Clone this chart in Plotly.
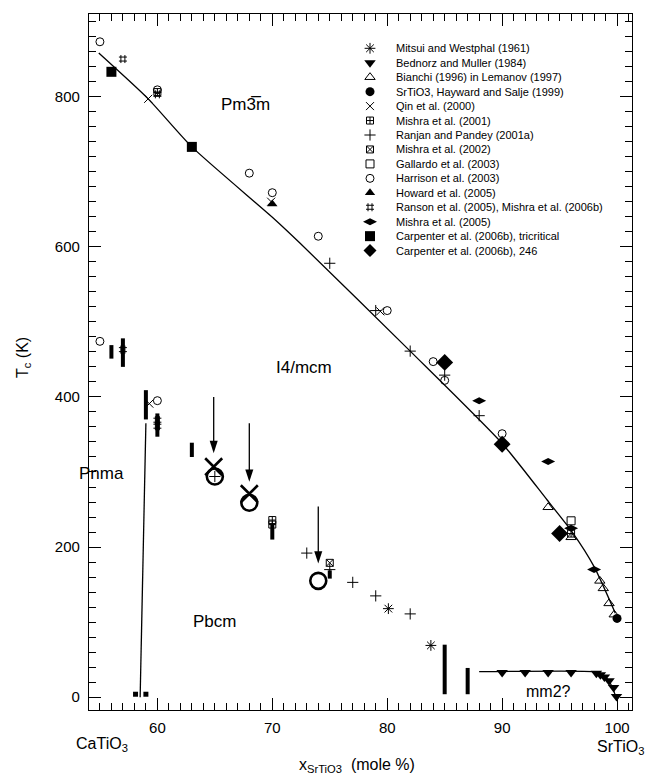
import plotly.graph_objects as go

FONT = "Liberation Sans, Arial, Helvetica, sans-serif"

# ---------------- data ----------------
# phase boundary curves
tc_line_x = [54.9, 59.2, 63.0, 70.1, 72.4, 82.0, 90.0, 93.9, 96.1, 98.0, 99.85]
tc_line_y = [858, 797, 733, 638, 605, 461, 338, 263, 220, 174, 112]
mm2_line_x = [88.0, 98.0, 98.5, 99.0, 99.4, 99.7, 99.9]
mm2_line_y = [34, 34, 32, 27, 19, 9, 0]
pnma_line_x = [59.0, 58.5]
pnma_line_y = [365, 0]

# thick vertical range bars
bar_x = [56, 57, 59, 60, 63, 70, 75, 85, 87]
bar_lo = [451, 440, 370, 347, 320, 210, 158, 4, 4]
bar_hi = [469, 478, 409, 378, 339, 230, 169, 70, 39]

# small squares at 0 K
low_sq_x = [58.1, 59.0]
low_sq_y = [4, 4]

# series
mitsui_x = [80.1, 83.8]
mitsui_y = [118, 69]
bednorz_x = [90, 92, 94, 96, 98.2, 98.55, 98.9, 99.3, 99.7, 99.95]
bednorz_y = [33, 33, 33, 33, 32, 30, 27, 22, 13, 1]
bianchi_x = [94, 96, 98.5, 98.8, 99.3, 99.75]
bianchi_y = [253, 213, 155, 145, 125, 110]
hayward_x = [100.0]
hayward_y = [105]
qin_x = [59.2, 59.3, 69.9, 79.4]
qin_y = [797, 391, 660, 514]
mishra01_x = [60, 70, 70, 96]
mishra01_y = [806, 236, 230, 218]
ranjan_x = [65, 73, 75, 75, 77, 79, 79, 82, 82, 85, 88]
ranjan_y = [294, 192, 170, 578, 153, 135, 515, 461, 111, 429, 375]
mishra02_x = [75]
mishra02_y = [179]
gallardo_x = [96]
gallardo_y = [235]
harrison_x = [55, 55, 60, 60, 68, 70, 74, 80, 84, 85, 90]
harrison_y = [873, 474, 809, 395, 698, 672, 614, 515, 447, 422, 351]
howard_x = [70]
howard_y = [657]
ranson_x = [57, 60, 57, 60, 60]
ranson_y = [850, 803, 463, 369, 361]
mishra05_x = [88, 94, 96, 98]
mishra05_y = [395, 314, 225, 170]
carp_tri_x = [56, 63]
carp_tri_y = [833, 733]
carp246_x = [85, 90, 95]
carp246_y = [446, 337, 218]

# large symbols and arrows
big_x_x = [64.9, 68.0]
big_x_y = [307, 271]
big_o_x = [65.0, 68.0, 74.0]
big_o_y = [294, 259, 155]
arrow_x = [64.9, 68.0, 74.0]
arrow_from = [400, 365, 254]
arrow_to = [325, 287, 178]

x_label_vals = [60, 70, 80, 90, 100]
x_half_vals = [55, 65, 75, 85, 95]

series = [
    ("Mitsui and Westphal (1961)", mitsui_x, mitsui_y, "asterisk-open", 9, 1.0),
    ("Bednorz and Muller (1984)", bednorz_x, bednorz_y, "triangle-down", 10, 0),
    ("Bianchi (1996) in Lemanov (1997)", bianchi_x, bianchi_y, "triangle-up-open", 9, 1.0),
    ("SrTiO3, Hayward and Salje (1999)", hayward_x, hayward_y, "circle", 9, 0),
    ("Qin et al. (2000)", qin_x, qin_y, "x-thin-open", 8, 1.0),
    ("Mishra et al. (2001)", mishra01_x, mishra01_y, "square-cross-open", 7, 1.0),
    ("Ranjan and Pandey (2001a)", ranjan_x, ranjan_y, "cross-thin-open", 8, 1.0),
    ("Mishra et al. (2002)", mishra02_x, mishra02_y, "square-x-open", 7, 1.0),
    ("Gallardo et al. (2003)", gallardo_x, gallardo_y, "square-open", 8, 1.0),
    ("Harrison et al. (2003)", harrison_x, harrison_y, "circle-open", 8, 1.0),
    ("Howard et al. (2005)", howard_x, howard_y, "triangle-up", 9, 0),
    ("Ranson et al. (2005), Mishra et al. (2006b)", ranson_x, ranson_y, "hash-open", 8, 1.0),
    ("Mishra et al. (2005)", mishra05_x, mishra05_y, "diamond-wide", 10, 0),
    ("Carpenter et al. (2006b), tricritical", carp_tri_x, carp_tri_y, "square", 10, 0),
    ("Carpenter et al. (2006b), 246", carp246_x, carp246_y, "diamond", 13, 0),
]

fig = go.Figure()

fig.add_trace(go.Scatter(x=tc_line_x, y=tc_line_y, mode="lines",
                         line=dict(color="black", width=1.3, shape="spline", smoothing=0.6),
                         showlegend=False, hoverinfo="skip"))
fig.add_trace(go.Scatter(x=mm2_line_x, y=mm2_line_y, mode="lines",
                         line=dict(color="black", width=1.3, shape="spline", smoothing=0.6),
                         showlegend=False, hoverinfo="skip"))
fig.add_trace(go.Scatter(x=pnma_line_x, y=pnma_line_y, mode="lines",
                         line=dict(color="black", width=1.3),
                         showlegend=False, hoverinfo="skip"))

bx, by = [], []
for xv, lo, hi in zip(bar_x, bar_lo, bar_hi):
    bx += [xv, xv, None]
    by += [lo, hi, None]
fig.add_trace(go.Scatter(x=bx, y=by, mode="lines", line=dict(color="black", width=4),
                         showlegend=False, hoverinfo="skip"))

fig.add_trace(go.Scatter(x=low_sq_x, y=low_sq_y, mode="markers",
                         marker=dict(symbol="square", size=5, color="black"),
                         showlegend=False))

for name, xs, ys, sym, size, lw in series:
    fig.add_trace(go.Scatter(x=xs, y=ys, mode="markers", name=name,
                             marker=dict(symbol=sym, size=size, color="black",
                                         line=dict(color="black", width=lw)),
                             showlegend=False))

fig.add_trace(go.Scatter(x=big_x_x, y=big_x_y, mode="markers",
                         marker=dict(symbol="x-thin-open", size=17, color="black",
                                     line=dict(color="black", width=2.6)),
                         showlegend=False))
fig.add_trace(go.Scatter(x=big_o_x, y=big_o_y, mode="markers",
                         marker=dict(symbol="circle-open", size=16, color="black",
                                     line=dict(color="black", width=2.6)),
                         showlegend=False))

# arrows: shaft lines plus arrow-head markers at the tips
ax_l, ay_l = [], []
for xv, y0, y1 in zip(arrow_x, arrow_from, arrow_to):
    ax_l += [xv, xv, None]
    ay_l += [y0, y1 + 8, None]
fig.add_trace(go.Scatter(x=ax_l, y=ay_l, mode="lines", line=dict(color="black", width=1.3),
                         showlegend=False, hoverinfo="skip"))
fig.add_trace(go.Scatter(x=arrow_x, y=arrow_to, mode="markers",
                         marker=dict(symbol="arrow", angle=180, size=13, color="black",
                                     line=dict(width=0)),
                         showlegend=False, hoverinfo="skip"))

# ---- legend (manual, on an overlay axis in plot-fraction units) ----
PLOT_L, PLOT_R, PLOT_T, PLOT_B = 89, 632, 14, 710
pw, ph = PLOT_R - PLOT_L, PLOT_B - PLOT_T
leg_marker_px = 370
leg_text_px = 394
leg_row0 = 48.3
leg_step = 14.45
for i, (name, xs, ys, sym, size, lw) in enumerate(series):
    py = leg_row0 + i * leg_step
    yf = (PLOT_B - py) / ph
    fig.add_trace(go.Scatter(x=[(leg_marker_px - PLOT_L) / pw], y=[yf], xaxis="x2", yaxis="y2",
                             mode="markers",
                             marker=dict(symbol=sym, size=min(size, 10), color="black",
                                         line=dict(color="black", width=lw)),
                             showlegend=False, hoverinfo="skip"))
    fig.add_annotation(x=(leg_text_px - PLOT_L) / pw, y=yf, xref="paper", yref="paper",
                       text=name, showarrow=False, xanchor="left", yanchor="middle",
                       font=dict(family=FONT, size=11, color="black"))

# ---- phase labels ----
def lab(x, y, t, size=17):
    fig.add_annotation(x=x, y=y, xref="x", yref="y", text=t, showarrow=False,
                       xanchor="center", yanchor="middle",
                       font=dict(family=FONT, size=size, color="black"))

lab(67.7, 789, "Pm3\u0305m")
lab(72.8, 439, "I4/mcm")
lab(55.15, 298, "Pnma")
lab(64.95, 101, "Pbcm")
lab(94.0, 8, "mm2?", 16)

def paper_text(px, py, t, angle=0):
    fig.add_annotation(x=(px - PLOT_L) / pw, y=(PLOT_B - py) / ph, xref="paper", yref="paper",
                       text=t, showarrow=False, textangle=angle,
                       xanchor="center", yanchor="middle",
                       font=dict(family=FONT, size=16, color="black"))

paper_text(102, 744, "CaTiO<sub>3</sub>")
paper_text(620, 748, "SrTiO<sub>3</sub>")
paper_text(357, 765, "x<sub>SrTiO3</sub>  (mole %)")
paper_text(24, 358, "T<sub>c</sub> (K)", -90)

axis_common = dict(showline=True, linecolor="black", linewidth=1.3, mirror="ticks",
                   ticks="inside", ticklen=12, tickwidth=1.2, tickcolor="black",
                   showgrid=False, zeroline=False,
                   tickfont=dict(family=FONT, size=15, color="black"))

X_RANGE = [54.05, 101.3]
fig.update_layout(
    width=650, height=774,
    margin=dict(l=PLOT_L, r=650 - PLOT_R, t=PLOT_T, b=774 - PLOT_B),
    paper_bgcolor="white", plot_bgcolor="white",
    showlegend=False,
    xaxis=dict(range=X_RANGE, tickmode="array", tickvals=x_label_vals,
               minor=dict(ticks="inside", ticklen=7, tickwidth=1.2, tickcolor="black",
                          tickmode="linear", tick0=0, dtick=1),
               ticklabelstandoff=4, **axis_common),
    yaxis=dict(range=[-17, 910], tickmode="linear", tick0=0, dtick=200,
               minor=dict(ticks="inside", ticklen=7, tickwidth=1.2, tickcolor="black",
                          tickmode="linear", tick0=0, dtick=20),
               ticklabelstandoff=5, **axis_common),
    xaxis2=dict(overlaying="x", anchor="y2", range=[0, 1], visible=False, fixedrange=True),
    yaxis2=dict(overlaying="y", anchor="x2", range=[0, 1], visible=False, fixedrange=True),
    xaxis3=dict(overlaying="x", anchor="y", side="bottom", range=X_RANGE,
                tickmode="array", tickvals=x_half_vals, showticklabels=False,
                ticks="inside", ticklen=12, tickwidth=1.2, tickcolor="black",
                showline=False, mirror="ticks", showgrid=False, zeroline=False),
)

fig.write_html("out.html")
